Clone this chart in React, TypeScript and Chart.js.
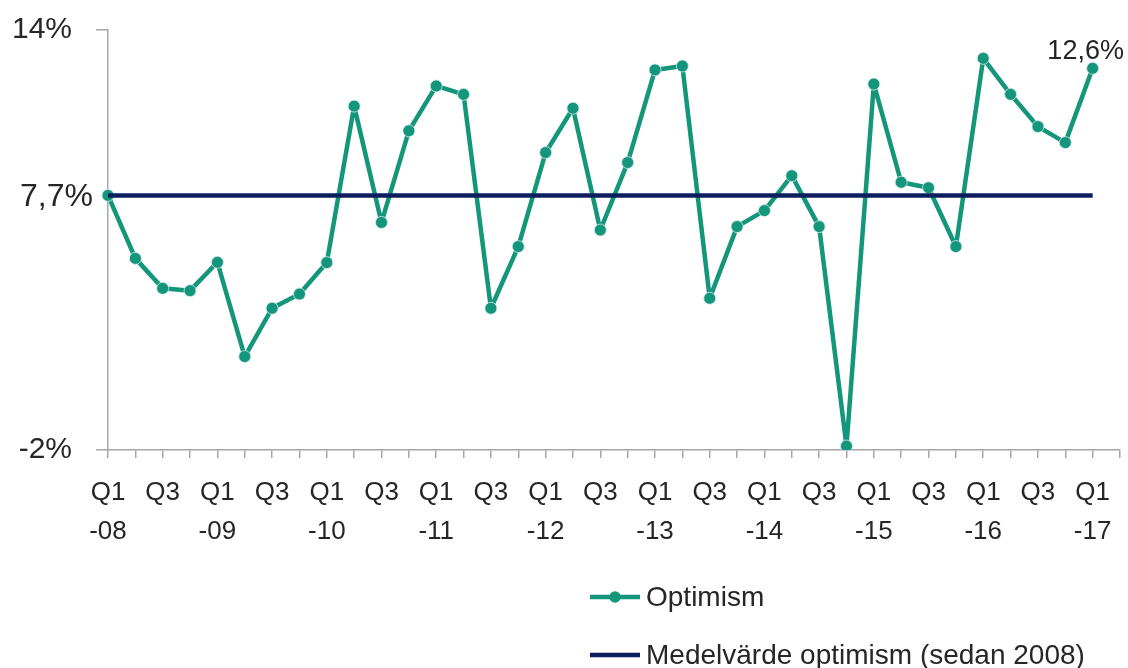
import React, { useEffect, useRef } from "react";
import { Chart, registerables } from "chart.js";

Chart.register(...registerables);

// ---- data ----
const years = ["08", "09", "10", "11", "12", "13", "14", "15", "16", "17"];
const quarterCount = 38; // Q1-08 .. Q2-17 (last slot empty)
const optimism = [
  7.7, 5.3, 4.16, 4.07, 5.15, 1.56, 3.4, 3.94, 5.14, 11.1,
  6.67, 10.16, 11.87, 11.55, 3.4, 5.75, 9.33, 11.02, 6.38, 8.95,
  12.48, 12.63, 3.78, 6.51, 7.12, 8.45, 6.51, -1.85, 11.94, 8.2,
  7.99, 5.75, 12.92, 11.55, 10.32, 9.71, 12.54,
];
const meanValue = 7.7;
const meanSeries = optimism.map(() => meanValue);
const yTicks = [-2, 14];
const meanLabel = "7,7%";
const lastLabel = "12,6%";
const seriesNames = ["Optimism", "Medelvärde optimism (sedan 2008)"];

const labels: (string | string[])[] = Array.from({ length: quarterCount }, (_, i) => {
  const q = i % 4;
  if (q === 0) return ["Q1", "-" + years[Math.floor(i / 4)]];
  if (q === 2) return "Q3";
  return "";
});

const GREEN = "#13967a";
const NAVY = "#0b1f5e";
const TEXT = "#262626";
const AXIS = "#a6a6a6";
const FONT = "'Liberation Sans', Arial, sans-serif";

const overlayPlugin = {
  id: "overlay",
  afterDraw(chart: any) {
    const ctx = chart.ctx;
    const x = chart.scales.x;
    const y = chart.scales.y;
    ctx.save();
    // mean label on y axis
    ctx.fillStyle = TEXT;
    ctx.font = `32px ${FONT}`;
    ctx.textAlign = "right";
    ctx.textBaseline = "middle";
    ctx.fillText(meanLabel, x.left - 15, y.getPixelForValue(meanValue) + 2);
    // last value label
    const li = optimism.length - 1;
    ctx.font = `27px ${FONT}`;
    ctx.textAlign = "center";
    ctx.fillText(lastLabel, x.getPixelForValue(li) - 7, y.getPixelForValue(optimism[li]) - 17);
    // legend
    const lx = 590;
    const rows = [597, 655];
    ctx.font = `28px ${FONT}`;
    ctx.textAlign = "left";
    rows.forEach((ry, k) => {
      ctx.strokeStyle = k === 0 ? GREEN : NAVY;
      ctx.lineWidth = 4.5;
      ctx.beginPath();
      ctx.moveTo(lx, ry);
      ctx.lineTo(lx + 50, ry);
      ctx.stroke();
      if (k === 0) {
        ctx.fillStyle = GREEN;
        ctx.beginPath();
        ctx.arc(lx + 25, ry, 5.8, 0, Math.PI * 2);
        ctx.fill();
      }
      ctx.fillStyle = TEXT;
      ctx.fillText(seriesNames[k], lx + 56, ry + 1);
    });
    ctx.restore();
  },
};

export default function App() {
  const ref = useRef<HTMLCanvasElement | null>(null);
  useEffect(() => {
    if (!ref.current) return;
    const chart = new Chart(ref.current, {
      type: "line",
      data: {
        labels,
        datasets: [
          {
            label: seriesNames[1],
            data: meanSeries,
            borderColor: NAVY,
            borderWidth: 4.5,
            pointRadius: 0,
            order: 0,
          },
          {
            label: seriesNames[0],
            data: optimism,
            borderColor: GREEN,
            backgroundColor: GREEN,
            borderWidth: 4.5,
            borderJoinStyle: "round",
            pointRadius: 6,
            pointBackgroundColor: GREEN,
            pointBorderColor: "#d8e8f4",
            pointBorderWidth: 0.8,
            order: 1,
          },
        ],
      },
      options: {
        animation: false,
        responsive: true,
        maintainAspectRatio: false,
        layout: { padding: { top: 30, right: 8, bottom: 0, left: 0 } },
        plugins: { legend: { display: false }, tooltip: { enabled: false } },
        scales: {
          x: {
            offset: false,
            grid: { display: true, drawOnChartArea: false, color: AXIS, tickLength: 8, lineWidth: 1.5 },
            border: { display: true, color: AXIS, width: 1.5 },
            ticks: {
              autoSkip: false,
              maxRotation: 0,
              minRotation: 0,
              padding: 15,
              color: TEXT,
              font: { family: FONT, size: 26, lineHeight: 1.5 },
            },
            afterFit(scale: any) {
              scale.height = 218;
              scale.paddingLeft = 0;
              scale.paddingRight = 0;
            },
          },
          y: {
            min: -2,
            max: 14,
            afterBuildTicks(scale: any) {
              scale.ticks = yTicks.map((v) => ({ value: v }));
            },
            grid: { display: true, drawOnChartArea: false, color: AXIS, tickLength: 12, lineWidth: 1.5 },
            border: { display: true, color: AXIS, width: 1.5 },
            ticks: {
              padding: 24,
              color: TEXT,
              font: { family: FONT, size: 30 },
              callback: (v: any) => `${v}%`,
            },
            afterFit(scale: any) {
              scale.width = 108;
              scale.paddingTop = 0;
              scale.paddingBottom = 0;
            },
          },
        },
      },
      plugins: [overlayPlugin],
    });
    return () => chart.destroy();
  }, []);
  return (
    <div style={{ position: "absolute", left: 0, top: 0, width: 1128, height: 668, background: "#fff" }}>
      <canvas ref={ref} />
    </div>
  );
}
